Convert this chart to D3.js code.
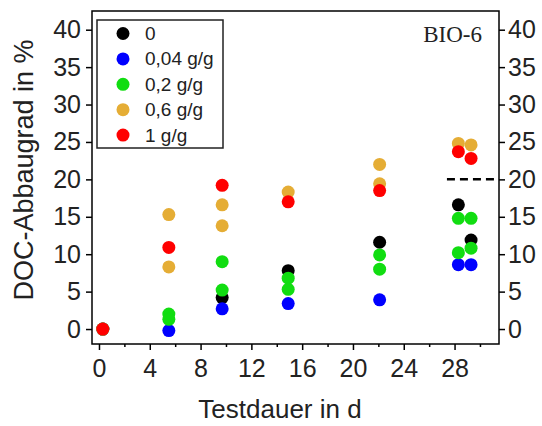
<!DOCTYPE html>
<html>
<head>
<meta charset="utf-8">
<script src="https://cdn.jsdelivr.net/npm/d3@7"></script>
<style>
  body { margin: 0; background: #fff; }
  text { font-family: "Liberation Sans", Arial, sans-serif; fill: #222; }
</style>
</head>
<body>
<div id="chart"></div>
<script>
// series names and colours (legend order)
var names = ["0", "0,04 g/g", "0,2 g/g", "0,6 g/g", "1 g/g"];
var colors = ["#000000", "#0000ff", "#11dd11", "#e5ad35", "#ff0000"];

// [Testdauer in d, DOC-Abbaugrad in %]
var ctrl = [[0.3, 0], [9.7, 4.2], [14.9, 7.8], [22.1, 11.6], [28.3, 16.6], [29.3, 11.9]];
var bio004 = [[0.3, 0], [5.5, -0.2], [9.7, 2.7], [14.9, 3.4], [22.1, 3.9], [28.3, 8.6], [29.3, 8.6]];
var bio02 = [[0.3, 0], [5.5, 2.0], [5.5, 1.3], [9.7, 9.0], [9.7, 5.2], [14.9, 6.8], [14.9, 5.3],
             [22.1, 9.9], [22.1, 8.0], [28.3, 14.8], [28.3, 10.2], [29.3, 14.8], [29.3, 10.8]];
var bio06 = [[0.3, 0], [5.5, 15.3], [5.5, 8.3], [9.7, 16.6], [9.7, 13.8], [14.9, 18.3],
             [22.1, 22.0], [22.1, 19.4], [28.3, 24.8], [29.3, 24.6]];
var bio1 = [[0.3, 0], [5.5, 10.9], [9.7, 19.2], [14.9, 17.0], [22.1, 18.5], [28.3, 23.7], [29.3, 22.8]];

var xTicks = [0, 4, 8, 12, 16, 20, 24, 28];
var xMinor = [2, 6, 10, 14, 18, 22, 26, 30];
var yTicks = [0, 5, 10, 15, 20, 25, 30, 35, 40];
var threshold = [[27.4, 20], [31.5, 20]];

var svgWidth = 542, svgHeight = 426;
var pLeft = 92, pRight = 499, pTop = 11, pBottom = 344;

var svg = d3.select("#chart").append("svg")
  .attr("width", svgWidth)
  .attr("height", svgHeight);

var x = d3.scaleLinear().domain([-0.55, 31.5]).range([pLeft, pRight]);
var y = d3.scaleLinear().domain([-2, 42.5]).range([pBottom, pTop]);

// axes
var gl = svg.append("g").attr("transform", "translate(" + pLeft + ",0)")
  .call(d3.axisLeft(y).tickValues(yTicks).tickSize(6).tickPadding(5));
var gr = svg.append("g").attr("transform", "translate(" + pRight + ",0)")
  .call(d3.axisRight(y).tickValues(yTicks).tickSize(6).tickPadding(3));
var gb = svg.append("g").attr("transform", "translate(0," + pBottom + ")")
  .call(d3.axisBottom(x).tickValues(xTicks).tickSize(6).tickPadding(9));
var gm = svg.append("g").attr("transform", "translate(0," + pBottom + ")")
  .call(d3.axisBottom(x).tickValues(xMinor).tickSize(3).tickFormat(""));

[gl, gr, gb, gm].forEach(function(g){
  g.select(".domain").remove();
  g.selectAll("line").attr("stroke", "#000").attr("stroke-width", 1.5);
  g.selectAll("text").attr("font-size", 25).attr("fill", "#222")
    .style("font-family", "'Liberation Sans', Arial, sans-serif");
});

// frame
svg.append("rect")
  .attr("x", pLeft).attr("y", pTop)
  .attr("width", pRight - pLeft).attr("height", pBottom - pTop)
  .attr("fill", "none").attr("stroke", "#000").attr("stroke-width", 1.5);

// dashed 20 % line
svg.append("path")
  .attr("d", d3.line().x(function(d){ return x(d[0]); }).y(function(d){ return y(d[1]); })(threshold))
  .attr("stroke", "#000").attr("stroke-width", 2.5)
  .attr("stroke-dasharray", "8,5").attr("fill", "none");

// points
var allSeries = [ctrl, bio004, bio02, bio06, bio1];
allSeries.forEach(function(s, i){
  svg.append("g").selectAll("circle").data(s).enter().append("circle")
    .attr("cx", function(d){ return x(d[0]); })
    .attr("cy", function(d){ return y(d[1]); })
    .attr("r", 6.5)
    .attr("fill", colors[i]);
});

// legend
var lg = svg.append("g");
lg.append("rect")
  .attr("x", 97).attr("y", 20).attr("width", 126).attr("height", 128)
  .attr("fill", "#fff").attr("stroke", "#222").attr("stroke-width", 1.5);
names.forEach(function(n, i){
  var cy = 33.5 + i * 25.4;
  lg.append("circle").attr("cx", 123).attr("cy", cy).attr("r", 6.5).attr("fill", colors[i]);
  lg.append("text").attr("x", 145).attr("y", cy + 6.5).attr("font-size", 19).text(n);
});

// label
svg.append("text")
  .attr("x", 482).attr("y", 42)
  .attr("text-anchor", "end")
  .attr("font-size", 23)
  .style("font-family", "'Liberation Serif', 'Times New Roman', serif")
  .text("BIO-6");

// axis titles
svg.append("text")
  .attr("x", 280).attr("y", 418)
  .attr("text-anchor", "middle")
  .attr("font-size", 26)
  .text("Testdauer in d");

svg.append("text")
  .attr("transform", "translate(33,170) rotate(-90)")
  .attr("text-anchor", "middle")
  .attr("font-size", 27)
  .text("DOC-Abbaugrad in %");
</script>
</body>
</html>
